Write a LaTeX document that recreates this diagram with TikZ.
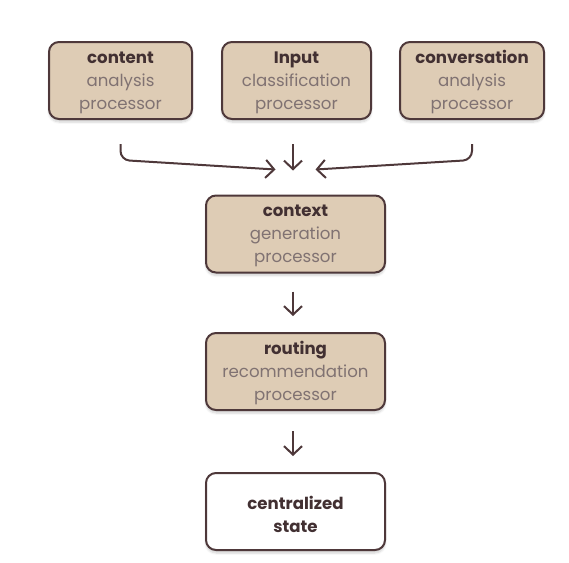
\documentclass[tikz,border=0pt]{standalone}
\usepackage{fontspec}
\setmainfont{Poppins}
\usetikzlibrary{arrows.meta,shadows.blur}
\definecolor{boxfill}{RGB}{222,204,181}
\definecolor{edge}{RGB}{78,56,58}
\definecolor{darktext}{RGB}{66,48,50}
\definecolor{lighttext}{RGB}{128,114,114}
\tikzset{
  proc/.style={draw=edge, line width=2pt, rounded corners=10pt, fill=boxfill,
    minimum height=77pt, inner sep=0pt,
    blur shadow={shadow xshift=0pt, shadow yshift=-3pt, shadow blur steps=6, shadow opacity=18}},
  ptext/.style={align=center, font=\fontsize{16.6}{23}\selectfont, text=lighttext,
    inner sep=0pt, yshift=-2pt},
  statebox/.style={proc, fill=white},
  conn/.style={draw=edge, line width=2pt, -{Straight Barb[length=8.5pt,width=18pt,line width=2pt]}}
}
\newcommand{\hd}[1]{{\bfseries\color{darktext}#1}}
\begin{document}
\begin{tikzpicture}[x=1pt,y=-1pt]
\useasboundingbox (0,0) rectangle (569,562);
\node[proc, minimum width=143pt, label={[ptext]center:{\hd{content}\\analysis\\processor}}] (b1) at (120.5,80.5) {};
\node[proc, minimum width=149pt, label={[ptext]center:{\hd{Input}\\classification\\processor}}] (b2) at (296.5,80.5) {};
\node[proc, minimum width=144pt, label={[ptext]center:{\hd{conversation}\\analysis\\processor}}] (b3) at (472,80.5) {};
\node[proc, minimum width=179pt, label={[ptext]center:{\hd{context}\\generation\\processor}}] (ctx) at (295.5,234) {};
\node[proc, minimum width=179pt, label={[ptext]center:{\hd{routing}\\recommendation\\processor}}] (rt) at (295.5,371.5) {};
\node[statebox, minimum width=179pt, label={[ptext, yshift=-1pt]center:{\hd{centralized}\\\hd{state}}}] (st) at (295.5,511.5) {};
\coordinate (l0) at ([yshift=-24pt]b1.south);
\coordinate (r0) at ([yshift=-24pt]b3.south);
\coordinate (m0) at ([xshift=-3.5pt,yshift=-24pt]b2.south);
\coordinate (lend) at ([xshift=-20pt,yshift=25pt]ctx.north);
\coordinate (rend) at ([xshift=20pt,yshift=25pt]ctx.north);
\coordinate (mend) at ([xshift=-2.5pt,yshift=24pt]ctx.north);
\draw[conn, rounded corners=9pt] (l0) -- ([yshift=-16pt]l0) -- (lend);
\draw[conn, rounded corners=9pt] (r0) -- ([yshift=-16pt]r0) -- (rend);
\draw[conn] (m0) -- (mend);
\draw[conn] ([xshift=-2.5pt,yshift=-18pt]ctx.south) -- ([xshift=-2.5pt,yshift=16pt]rt.north);
\draw[conn] ([xshift=-2.5pt,yshift=-20pt]rt.south) -- ([xshift=-2.5pt,yshift=16pt]st.north);
\end{tikzpicture}
\end{document}
